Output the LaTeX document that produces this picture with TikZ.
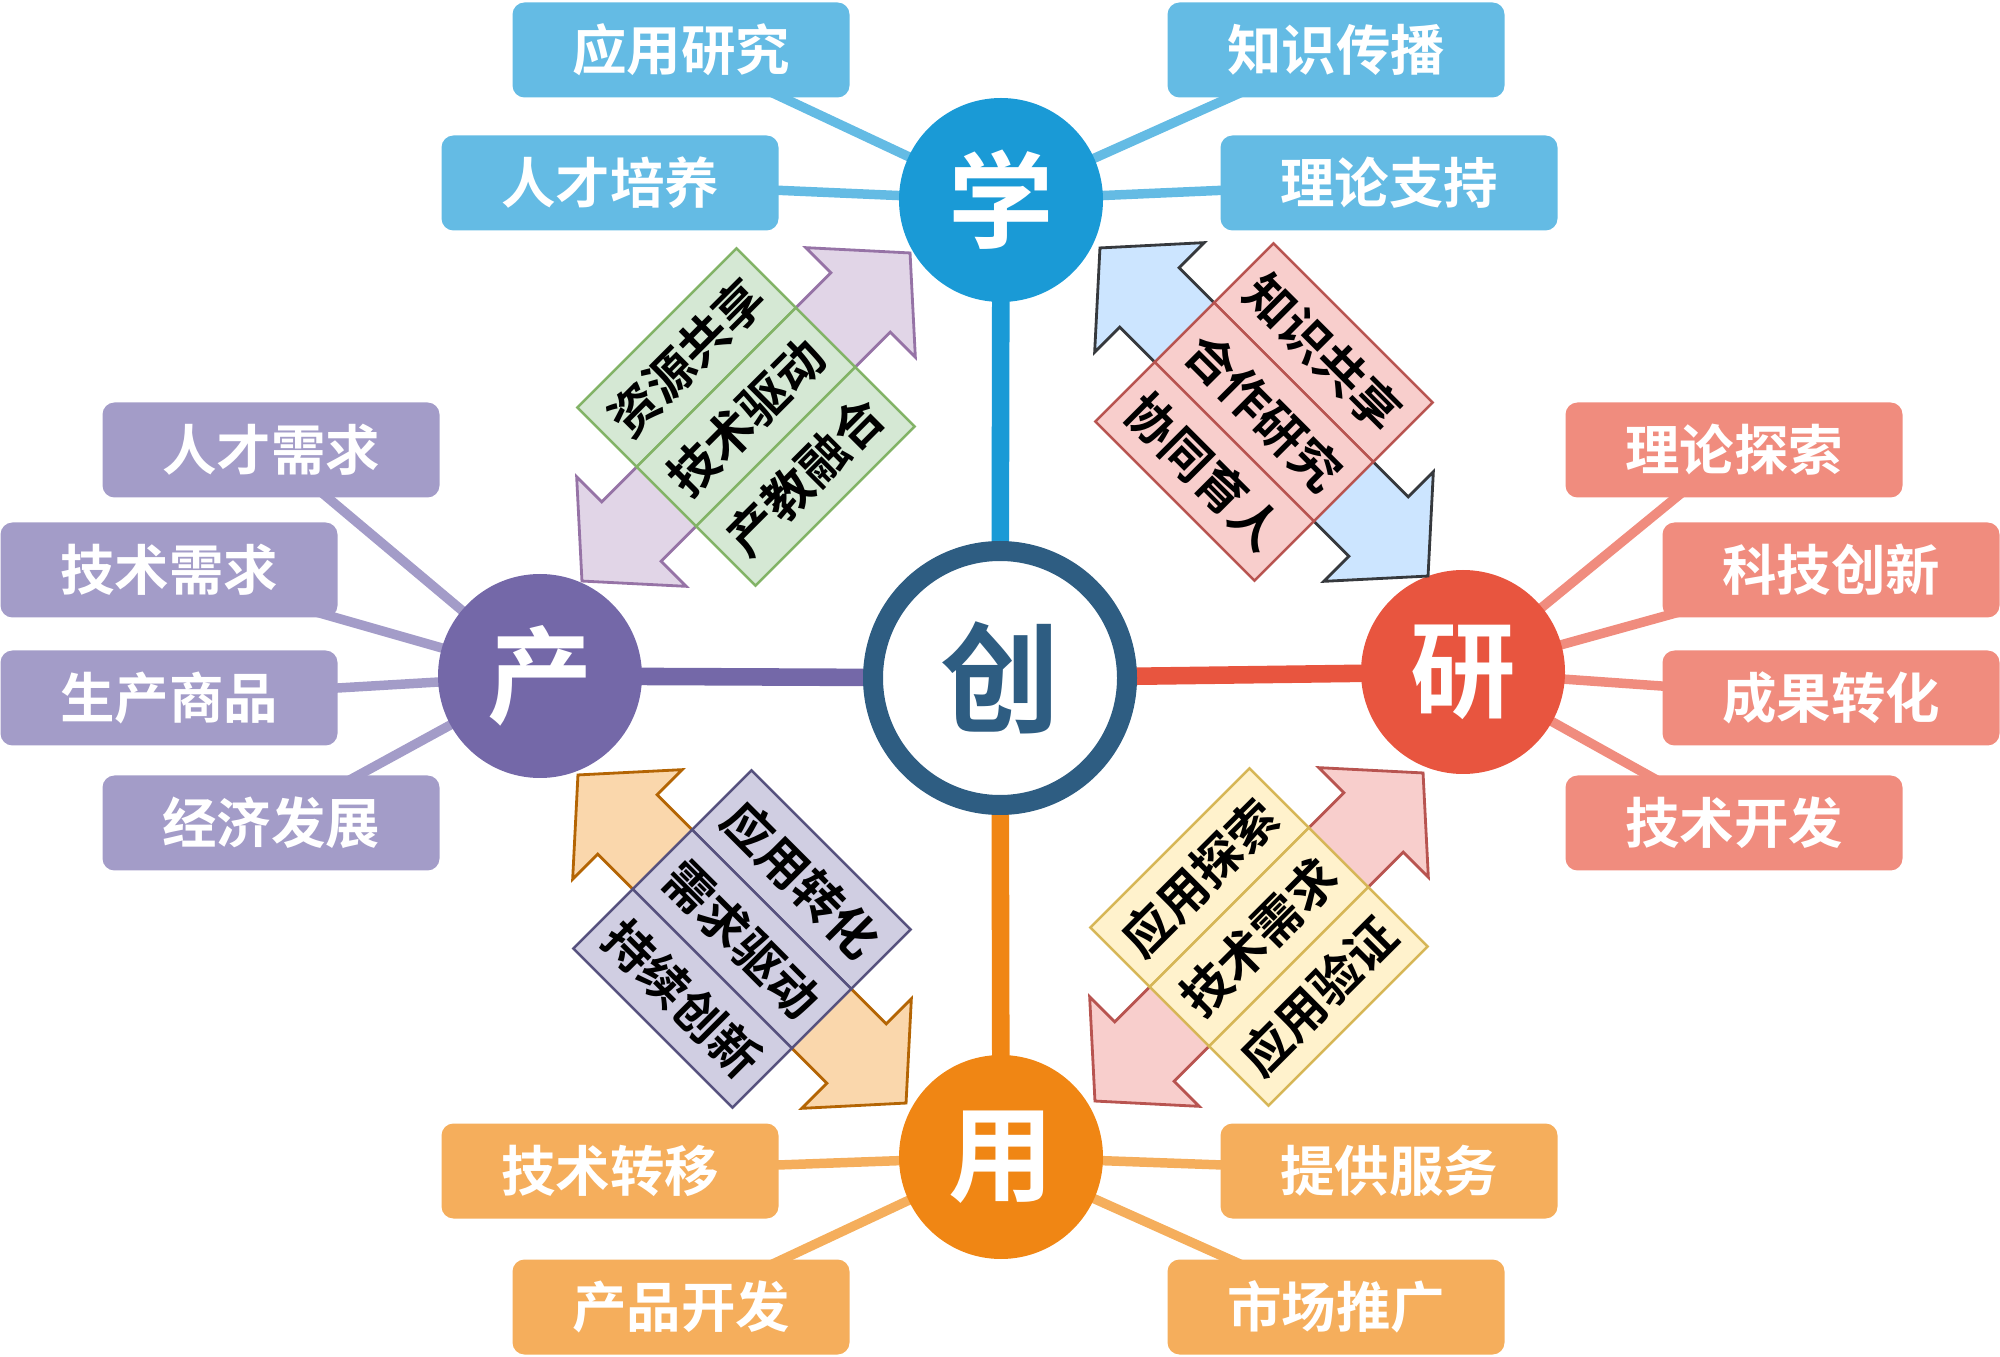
\documentclass[tikz,border=0pt]{standalone}
\usepackage{fontspec}
\newfontfamily\cjk[BoldFont={Noto Sans CJK SC Bold}]{Noto Sans CJK SC}
\usetikzlibrary{backgrounds}
\definecolor{xueblue}{HTML}{1A9AD6}
\definecolor{yanred}{HTML}{E8553F}
\definecolor{yongorange}{HTML}{F08614}
\definecolor{chanpurple}{HTML}{7468A8}
\definecolor{chuangblue}{HTML}{2E5D82}
\definecolor{leafblue}{HTML}{64BBE4}
\definecolor{leafred}{HTML}{F08C7E}
\definecolor{leaforange}{HTML}{F5AE5C}
\definecolor{leafpurple}{HTML}{A39CC8}
\definecolor{greenfill}{HTML}{D5E8D4}
\definecolor{greenline}{HTML}{82B366}
\definecolor{lilacfill}{HTML}{E1D5E7}
\definecolor{lilacline}{HTML}{9673A6}
\definecolor{skyfill}{HTML}{CCE5FF}
\definecolor{skyline}{HTML}{36393D}
\definecolor{pinkfill}{HTML}{F8CECC}
\definecolor{pinkline}{HTML}{B85450}
\definecolor{peachfill}{HTML}{FAD7AC}
\definecolor{peachline}{HTML}{B46504}
\definecolor{slatefill}{HTML}{D0CEE2}
\definecolor{slateline}{HTML}{56517E}
\definecolor{creamfill}{HTML}{FFF2CC}
\definecolor{creamline}{HTML}{D6B656}

\begin{document}
\begin{tikzpicture}[-, thick,
        hub node/.style={circle, fill=#1, text=white, minimum size=2.04cm, inner sep=0pt, font=\cjk\bfseries\fontsize{30}{30}\selectfont},
        leaf node/.style={rectangle, rounded corners=0.12cm, fill=#1, text=white, minimum width=3.37cm, minimum height=0.95cm, inner sep=0pt, font=\cjk\bfseries\fontsize{15.5}{16}\selectfont},
        tag node/.style={rectangle, line width=0.7pt, text=black, minimum width=2.25cm, minimum height=0.84cm, inner sep=0pt, font=\cjk\bfseries\fontsize{14}{14}\selectfont},
        spoke/.style={line width=5pt, draw=#1},
        link/.style={line width=2.7pt, draw=#1},
        arrow body/.style={line width=0.8pt, line join=miter}]

            \useasboundingbox (0,0) rectangle (20,13.56);

            % Centre and the four hubs
            \node[circle, draw=chuangblue, line width=0.2cm, fill=white, minimum size=2.54cm, inner sep=0pt, text=chuangblue, font=\cjk\bfseries\fontsize{34}{34}\selectfont] (chuang) at (10.0,6.78) {创};
            \node[hub node=xueblue] (xue) at (10.01,11.56) {学};
            \node[hub node=yanred] (yan) at (14.63,6.84) {研};
            \node[hub node=yongorange] (yong) at (10.01,1.99) {用};
            \node[hub node=chanpurple] (chan) at (5.40,6.80) {产};

            % Leaves of xue
            \node[leaf node=leafblue] (xue1) at (6.81,13.06) {应用研究};
            \node[leaf node=leafblue] (xue2) at (6.10,11.73) {人才培养};
            \node[leaf node=leafblue] (xue3) at (13.36,13.06) {知识传播};
            \node[leaf node=leafblue] (xue4) at (13.89,11.73) {理论支持};

            % Leaves of chan
            \node[leaf node=leafpurple] (chan1) at (2.71,9.06) {人才需求};
            \node[leaf node=leafpurple] (chan2) at (1.69,7.86) {技术需求};
            \node[leaf node=leafpurple] (chan3) at (1.69,6.58) {生产商品};
            \node[leaf node=leafpurple] (chan4) at (2.71,5.33) {经济发展};

            % Leaves of yan
            \node[leaf node=leafred] (yan1) at (17.34,9.06) {理论探索};
            \node[leaf node=leafred] (yan2) at (18.31,7.86) {科技创新};
            \node[leaf node=leafred] (yan3) at (18.31,6.58) {成果转化};
            \node[leaf node=leafred] (yan4) at (17.34,5.33) {技术开发};

            % Leaves of yong
            \node[leaf node=leaforange] (yong1) at (6.10,1.85) {技术转移};
            \node[leaf node=leaforange] (yong2) at (6.81,0.49) {产品开发};
            \node[leaf node=leaforange] (yong3) at (13.89,1.85) {提供服务};
            \node[leaf node=leaforange] (yong4) at (13.36,0.49) {市场推广};

            \begin{pgfonlayer}{background}
            % Spokes from the hubs to the centre
            \path
                (xue.center) edge[spoke=xueblue] (chuang.center)
                (yan.center) edge[spoke=yanred] (chuang.center)
                (yong.center) edge[spoke=yongorange] (chuang.center)
                (chan.center) edge[spoke=chanpurple] (chuang.center);

            % Links from the leaves to their hub
            \path
                (xue1.center) edge[link=leafblue] (xue.center)
                (xue2.center) edge[link=leafblue] (xue.center)
                (xue3.center) edge[link=leafblue] (xue.center)
                (xue4.center) edge[link=leafblue] (xue.center);
            \path
                (chan1.center) edge[link=leafpurple] (chan.center)
                (chan2.center) edge[link=leafpurple] (chan.center)
                (chan3.center) edge[link=leafpurple] (chan.center)
                (chan4.center) edge[link=leafpurple] (chan.center);
            \path
                (yan1.center) edge[link=leafred] (yan.center)
                (yan2.center) edge[link=leafred] (yan.center)
                (yan3.center) edge[link=leafred] (yan.center)
                (yan4.center) edge[link=leafred] (yan.center);
            \path
                (yong1.center) edge[link=leaforange] (yong.center)
                (yong2.center) edge[link=leaforange] (yong.center)
                (yong3.center) edge[link=leaforange] (yong.center)
                (yong4.center) edge[link=leaforange] (yong.center);
            \end{pgfonlayer}

            % Double arrow between chan and xue
            \begin{scope}[shift={(7.46,9.39)}, rotate=45, transform shape]
                \draw[arrow body, fill=lilacfill, draw=lilacline] (2.32,0) -- (1.62,0.775) -- (1.62,0.42) -- (-1.62,0.42) -- (-1.62,0.775) -- (-2.32,0) -- (-1.62,-0.775) -- (-1.62,-0.42) -- (1.62,-0.42) -- (1.62,-0.775) -- cycle;
                \node[tag node, fill=greenfill, draw=greenline] (cx1) at (0,0.84) {资源共享};
                \node[tag node, fill=greenfill, draw=greenline] (cx2) at (0,0) {技术驱动};
                \node[tag node, fill=greenfill, draw=greenline] (cx3) at (0,-0.84) {产教融合};
            \end{scope}

            % Double arrow between xue and yan
            \begin{scope}[shift={(12.64,9.44)}, rotate=-45, transform shape]
                \draw[arrow body, fill=skyfill, draw=skyline] (2.32,0) -- (1.62,0.775) -- (1.62,0.42) -- (-1.62,0.42) -- (-1.62,0.775) -- (-2.32,0) -- (-1.62,-0.775) -- (-1.62,-0.42) -- (1.62,-0.42) -- (1.62,-0.775) -- cycle;
                \node[tag node, fill=pinkfill, draw=pinkline] (xy1) at (0,0.84) {知识共享};
                \node[tag node, fill=pinkfill, draw=pinkline] (xy2) at (0,0) {合作研究};
                \node[tag node, fill=pinkfill, draw=pinkline] (xy3) at (0,-0.84) {协同育人};
            \end{scope}

            % Double arrow between chan and yong
            \begin{scope}[shift={(7.42,4.17)}, rotate=-45, transform shape]
                \draw[arrow body, fill=peachfill, draw=peachline] (2.32,0) -- (1.62,0.775) -- (1.62,0.42) -- (-1.62,0.42) -- (-1.62,0.775) -- (-2.32,0) -- (-1.62,-0.775) -- (-1.62,-0.42) -- (1.62,-0.42) -- (1.62,-0.775) -- cycle;
                \node[tag node, fill=slatefill, draw=slateline] (cy1) at (0,0.84) {应用转化};
                \node[tag node, fill=slatefill, draw=slateline] (cy2) at (0,0) {需求驱动};
                \node[tag node, fill=slatefill, draw=slateline] (cy3) at (0,-0.84) {持续创新};
            \end{scope}

            % Double arrow between yong and yan
            \begin{scope}[shift={(12.59,4.19)}, rotate=45, transform shape]
                \draw[arrow body, fill=pinkfill, draw=pinkline] (2.32,0) -- (1.62,0.775) -- (1.62,0.42) -- (-1.62,0.42) -- (-1.62,0.775) -- (-2.32,0) -- (-1.62,-0.775) -- (-1.62,-0.42) -- (1.62,-0.42) -- (1.62,-0.775) -- cycle;
                \node[tag node, fill=creamfill, draw=creamline] (yy1) at (0,0.84) {应用探索};
                \node[tag node, fill=creamfill, draw=creamline] (yy2) at (0,0) {技术需求};
                \node[tag node, fill=creamfill, draw=creamline] (yy3) at (0,-0.84) {应用验证};
            \end{scope}

    \end{tikzpicture}
\end{document}
